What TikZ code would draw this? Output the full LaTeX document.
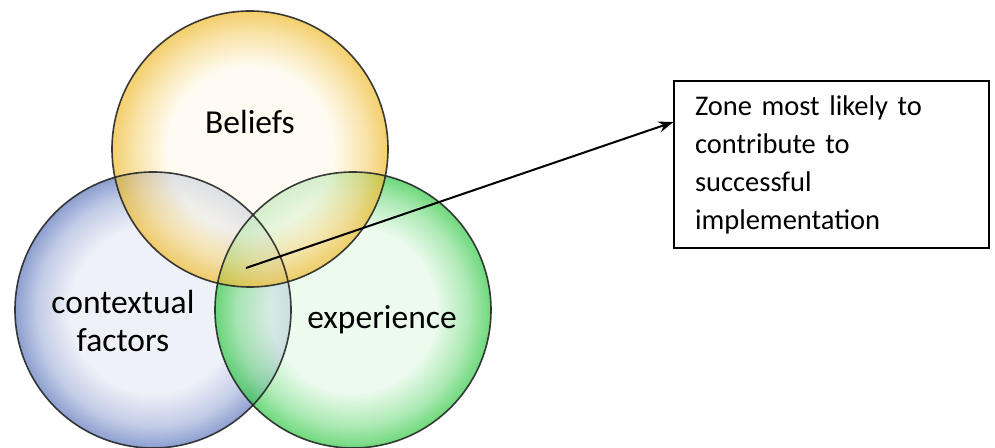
\documentclass[tikz,border=0pt]{standalone}
\usepackage{fontspec}
\setmainfont{Carlito}
\usepackage{tikz}
\usetikzlibrary{shapes.geometric, arrows.meta}

\definecolor{beliefcore}{RGB}{255,250,236}
\definecolor{beliefedge}{RGB}{238,186,45}
\definecolor{contextcore}{RGB}{232,235,246}
\definecolor{contextedge}{RGB}{92,118,188}
\definecolor{expcore}{RGB}{228,249,230}
\definecolor{expedge}{RGB}{48,200,68}

\pgfdeclareradialshading{beliefshade}{\pgfpoint{0bp}{0bp}}{color(0bp)=(beliefcore); color(15bp)=(beliefcore); color(21bp)=(beliefedge!55!beliefcore); color(25bp)=(beliefedge); color(50bp)=(beliefedge)}
\pgfdeclareradialshading{contextshade}{\pgfpoint{0bp}{0bp}}{color(0bp)=(contextcore); color(15bp)=(contextcore); color(21bp)=(contextedge!45!contextcore); color(25bp)=(contextedge); color(50bp)=(contextedge)}
\pgfdeclareradialshading{expshade}{\pgfpoint{0bp}{0bp}}{color(0bp)=(expcore); color(15bp)=(expcore); color(21bp)=(expedge!50!expcore); color(25bp)=(expedge); color(50bp)=(expedge)}

\tikzstyle{bubble} = [circle, minimum size=276pt, inner sep=0pt, fill opacity=0.7]
\tikzstyle{rim} = [draw=black!85, line width=1.6pt]
\tikzstyle{venntext} = [font=\fontsize{33.5}{38}\selectfont, align=center]
\tikzstyle{zonebox} = [rectangle, draw, line width=1.1pt, minimum width=315pt, minimum height=167pt, text width=273pt, inner xsep=21pt, align=left, font=\fontsize{28.5}{38}\selectfont]
\tikzstyle{arrow} = [line width=2pt, -{Stealth[length=15pt,width=11pt]}]

\begin{document}
\begin{tikzpicture}[x=1pt, y=1pt]
  \useasboundingbox (0,0) rectangle (995,447);

  % the three circles
  \node (context) [bubble, shading=contextshade] at (153,137) {};
  \node (exp) [bubble, shading=expshade] at (353,137) {};
  \node (belief) [bubble, shading=beliefshade] at (250,298) {};

  \draw [rim, draw opacity=0.9] (context.center) circle [radius=138pt];
  \draw [rim, draw opacity=0.9] (exp.center) circle [radius=138pt];
  \draw [rim, draw opacity=0.9] (belief.center) circle [radius=138pt];

  \node (belieftext) [venntext] at (250,325) {Beliefs};
  \node (contexttext) [venntext] at (123,126) {contextual\\factors};
  \node (exptext) [venntext] at (382,127) {experience};

  % callout
  \node (zone) [zonebox] at (831.5,282.5) {Zone most likely to\\contribute to\\successful\\implementation};
  \coordinate (core) at (246,179);

  \draw [arrow] (core) -- ([yshift=42.5pt]zone.west);
\end{tikzpicture}
\end{document}
